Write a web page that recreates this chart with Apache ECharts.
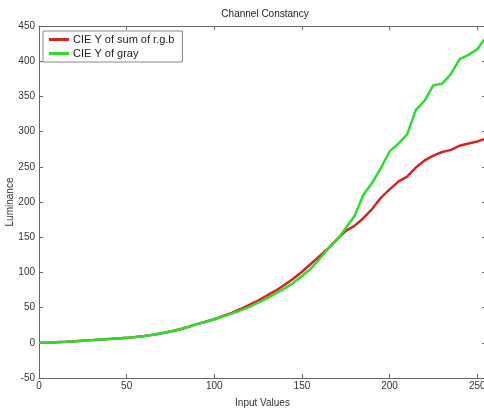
<!DOCTYPE html>
<html>
<head>
<meta charset="utf-8">
<script src="https://cdn.jsdelivr.net/npm/echarts@6/dist/echarts.min.js"></script>
<style>html,body{margin:0;padding:0;background:#fff}#c{width:484px;height:409px}</style>
</head>
<body>
<div id="c"></div>
<script>
const inputValues = [0,5,10,15,20,25,30,35,40,45,50,55,60,65,70,75,80,85,90,95,100,105,110,115,120,125,130,135,140,145,150,155,160,165,170,175,180,185,190,195,200,205,210,215,220,225,230,235,240,245,250,255];
const sumRGB = [0,0.3,0.8,1.4,2.1,3,3.8,4.6,5.4,6.2,7,8.3,9.8,11.5,13.5,16,19,22.5,26.5,30,33.5,38,42.5,48,54,60,67,74,82,91,101,112,123,134,147,159,166,177,190,206,218,229,236,249,259,266,271,274,280,283,286,290];
const grayY = [0,0.3,0.8,1.4,2.1,3,3.8,4.6,5.4,6.2,7,8.3,9.8,11.5,13.5,16,19,22.5,26.5,30,33.5,37.5,41.5,46,51,57,63,70,77,85,95,105,119,134,146,163,180,210,227,248,272,283,296,331,344,366,368,382,403,409,417,434];
const xTicks = [0,50,100,150,200,250];
const yTicks = [-50,0,50,100,150,200,250,300,350,400,450];
const seriesNames = ['CIE Y of sum of r.g.b','CIE Y of gray'];

const axisCol = '#666';
const labelCol = '#333';
const font = 'Liberation Sans, Arial, sans-serif';
const pairs = arr => inputValues.map((x,i)=>[x,arr[i]]);

const chart = echarts.init(document.getElementById('c'), null, {renderer:'canvas'});
chart.setOption({
  animation:false,
  backgroundColor:'#fff',
  title:{text:'Channel Constancy',left:260,top:4,textAlign:'center',
    textStyle:{fontSize:10,fontWeight:'normal',color:'#222',fontFamily:font}},
  legend:{
    orient:'vertical',left:43,top:31,
    data:seriesNames,
    icon:'rect',itemWidth:20,itemHeight:3,itemGap:3,
    padding:[3,8,3,6],
    borderColor:'#888',borderWidth:1,backgroundColor:'#fff',
    textStyle:{fontSize:11,color:'#222',fontFamily:font,padding:[0,0,0,-1]}
  },
  grid:{left:39,top:26,width:447,height:352,containLabel:false,outerBoundsMode:'none'},
  xAxis:[{
    type:'value',min:0,max:255,interval:50,
    name:'Input Values',nameLocation:'middle',nameGap:20,nameMoveOverlap:false,
    nameTextStyle:{fontSize:10,color:labelCol,fontFamily:font},
    axisLine:{show:true,onZero:false,lineStyle:{color:axisCol}},
    axisTick:{show:true,inside:true,length:4,lineStyle:{color:axisCol}},
    axisLabel:{fontSize:10,color:labelCol,fontFamily:font,margin:3,showMaxLabel:false,
      formatter:v=>xTicks.includes(v)?String(v):''},
    splitLine:{show:false}
  },{
    type:'value',min:0,max:255,interval:50,position:'top',
    axisLine:{show:true,onZero:false,lineStyle:{color:axisCol}},
    axisTick:{show:true,inside:true,length:4,lineStyle:{color:axisCol}},
    axisLabel:{show:false},splitLine:{show:false}
  }],
  yAxis:[{
    type:'value',min:-50,max:450,interval:50,
    name:'Luminance',nameLocation:'middle',nameGap:24,nameMoveOverlap:false,
    nameTextStyle:{fontSize:10,color:labelCol,fontFamily:font},
    axisLine:{show:true,onZero:false,lineStyle:{color:axisCol}},
    axisTick:{show:true,inside:true,length:4,lineStyle:{color:axisCol}},
    axisLabel:{fontSize:10,color:labelCol,fontFamily:font,margin:4,
      formatter:v=>yTicks.includes(v)?String(v):''},
    splitLine:{show:false}
  },{
    type:'value',min:-50,max:450,interval:50,position:'right',
    axisLine:{show:true,onZero:false,lineStyle:{color:axisCol}},
    axisTick:{show:true,inside:true,length:4,lineStyle:{color:axisCol}},
    axisLabel:{show:false},splitLine:{show:false}
  }],
  series:[
    {name:seriesNames[0],type:'line',data:pairs(sumRGB),showSymbol:false,symbol:'none',
      lineStyle:{color:'#d42424',width:2.5},itemStyle:{color:'#d42424'},z:3},
    {name:seriesNames[1],type:'line',data:pairs(grayY),showSymbol:false,symbol:'none',
      lineStyle:{color:'#2edc2e',width:2.5},itemStyle:{color:'#2edc2e'},z:4}
  ]
});
</script>
</body>
</html>
